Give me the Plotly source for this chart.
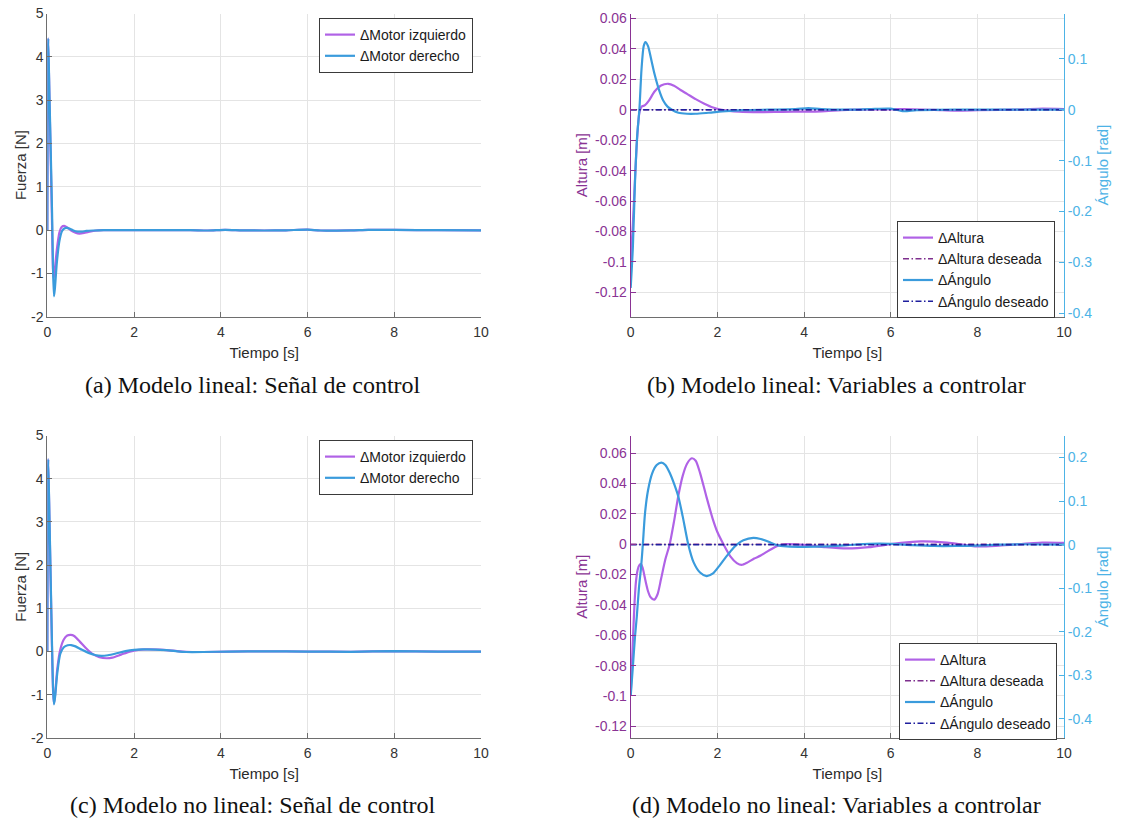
import plotly.graph_objects as go

# ---------------- data ----------------
X_TICKS = [0, 2, 4, 6, 8, 10]
X_TICK_LABELS = ["0", "2", "4", "6", "8", "10"]
F_TICKS = [-2, -1, 0, 1, 2, 3, 4, 5]
F_TICK_LABELS = ["-2", "-1", "0", "1", "2", "3", "4", "5"]
ALT_TICKS = [-0.12, -0.1, -0.08, -0.06, -0.04, -0.02, 0, 0.02, 0.04, 0.06]
ALT_TICK_LABELS = ["-0.12", "-0.1", "-0.08", "-0.06", "-0.04", "-0.02", "0", "0.02", "0.04", "0.06"]
ANG_TICKS_B = [-0.4, -0.3, -0.2, -0.1, 0, 0.1]
ANG_TICK_LABELS_B = ["-0.4", "-0.3", "-0.2", "-0.1", "0", "0.1"]
ANG_TICKS_D = [-0.4, -0.3, -0.2, -0.1, 0, 0.1, 0.2]
ANG_TICK_LABELS_D = ["-0.4", "-0.3", "-0.2", "-0.1", "0", "0.1", "0.2"]

# (a) linear model, control signal
t_a_izq = [0, 0.02, 0.05, 0.08, 0.11, 0.13, 0.145, 0.17, 0.22, 0.28, 0.33, 0.39, 0.46, 0.55,
           0.65, 0.74, 0.85, 0.95, 1.1, 1.3, 1.6, 2.5, 3.3, 3.7, 4.1, 4.5, 5, 5.5, 6, 6.3,
           7, 7.4, 8, 9, 10]
f_a_izq = [0, 4.42, 3.0, 1.6, 0.1, -0.9, -1.12, -0.95, -0.45, -0.05, 0.07, 0.095, 0.06, -0.01,
           -0.06, -0.08, -0.065, -0.04, -0.015, -0.003, 0, 0, 0, -0.01, 0.005, -0.005, -0.01, -0.005, 0.01, -0.01,
           -0.005, 0.005, 0.003, -0.003, -0.005]
t_a_der = [0, 0.02, 0.05, 0.08, 0.11, 0.135, 0.155, 0.175, 0.22, 0.28, 0.34, 0.40, 0.45, 0.52,
           0.6, 0.7, 0.8, 0.9, 1.05, 1.3, 1.6, 2.5, 3.3, 3.7, 4.1, 4.5, 5, 5.5, 6, 6.3,
           7, 7.4, 8, 9, 10]
f_a_der = [0, 4.42, 3.1, 1.8, 0.4, -1.0, -1.53, -1.35, -0.75, -0.25, -0.02, 0.04, 0.05, 0.03,
           -0.01, -0.035, -0.035, -0.02, -0.01, 0, 0, 0, 0, -0.01, 0.005, -0.005, -0.01, -0.005, 0.01, -0.01,
           -0.005, 0.005, 0.003, -0.003, -0.005]

# (b) linear model, controlled variables
t_b_alt = [0, 0.05, 0.1, 0.15, 0.2, 0.25, 0.33, 0.42, 0.55, 0.7, 0.87, 1.0, 1.15, 1.3, 1.5,
           1.7, 1.9, 2.1, 2.5, 3.0, 3.5, 4.0, 4.4, 5, 6, 6.3, 7, 7.5, 8, 9, 9.5, 10]
h_b_alt = [-0.1, -0.075, -0.045, -0.018, -0.002, 0.002, 0.003, 0.006, 0.012, 0.016, 0.0171, 0.0158,
           0.013, 0.0105, 0.007, 0.004, 0.0015, 0.0, -0.0012, -0.0015, -0.0013, -0.0012, -0.001, 0,
           0.0003, 0.0005, 0, -0.0005, -0.0003, 0.0002, 0.0008, 0.0005]
t_b_ang = [0, 0.05, 0.1, 0.15, 0.2, 0.25, 0.3, 0.34, 0.4, 0.47, 0.55, 0.65, 0.75, 0.85, 0.95,
           1.1, 1.3, 1.5, 1.8, 2.2, 2.6, 3.2, 3.8, 4.1, 4.4, 5, 5.5, 6, 6.3, 6.6, 7.5, 8.5, 10]
a_b_ang = [-0.35, -0.27, -0.14, -0.05, 0.0, 0.08, 0.125, 0.133, 0.125, 0.1, 0.07, 0.04, 0.018,
           0.006, 0.0, -0.006, -0.008, -0.008, -0.006, -0.003, -0.001, 0.0, 0.001, 0.003, 0.001,
           0.0, 0.001, 0.002, -0.003, -0.001, 0.0, 0.0, 0.0]

# (c) nonlinear model, control signal
t_c_izq = [0, 0.02, 0.05, 0.08, 0.11, 0.135, 0.155, 0.18, 0.23, 0.3, 0.38, 0.46, 0.54, 0.62,
           0.75, 0.9, 1.05, 1.2, 1.37, 1.5, 1.7, 1.9, 2.1, 2.3, 2.6, 2.8, 3.0, 3.2, 3.6, 4.2,
           5, 6, 7, 8, 9, 10]
f_c_izq = [0, 4.45, 3.0, 1.5, 0.0, -0.95, -1.2, -1.0, -0.4, 0.05, 0.28, 0.37, 0.385, 0.36,
           0.23, 0.07, -0.06, -0.13, -0.155, -0.14, -0.07, 0.0, 0.04, 0.05, 0.045, 0.03, 0.01, -0.005,
           -0.01, 0, 0.005, 0, -0.005, 0.01, 0, 0]
t_c_der = [0, 0.02, 0.05, 0.08, 0.11, 0.135, 0.155, 0.18, 0.23, 0.3, 0.38, 0.47, 0.55, 0.65,
           0.8, 0.95, 1.1, 1.25, 1.4, 1.6, 1.8, 2.0, 2.2, 2.5, 2.8, 3.0, 3.2, 3.6, 4.2,
           5, 6, 7, 8, 9, 10]
f_c_der = [0, 4.45, 3.1, 1.6, 0.1, -0.9, -1.22, -1.05, -0.5, -0.05, 0.1, 0.145, 0.15, 0.12,
           0.04, -0.03, -0.08, -0.1, -0.085, -0.04, 0.01, 0.04, 0.05, 0.045, 0.03, 0.005, -0.01,
           -0.01, 0, 0.005, 0, -0.005, 0.01, 0, 0]

# (d) nonlinear model, controlled variables
t_d_alt = [0, 0.03, 0.06, 0.09, 0.12, 0.16, 0.2, 0.24, 0.28, 0.34, 0.4, 0.46, 0.545, 0.62, 0.7,
           0.8, 0.9, 1.0, 1.1, 1.2, 1.3, 1.41, 1.5, 1.6, 1.75, 1.9, 2.0, 2.14, 2.3, 2.45, 2.56,
           2.7, 2.85, 3.0, 3.2, 3.4, 3.6, 4.0, 4.5, 5.0, 5.5, 6.0, 6.7, 7.3, 8.0, 8.5, 9.5, 10]
h_d_alt = [-0.1, -0.078, -0.057, -0.038, -0.025, -0.017, -0.0138, -0.0132, -0.016, -0.024, -0.031,
           -0.035, -0.0365, -0.033, -0.023, -0.01, 0.0, 0.015, 0.032, 0.045, 0.053, 0.0566, 0.055,
           0.047, 0.031, 0.016, 0.008, 0.0, -0.008, -0.0125, -0.0137, -0.012, -0.0095, -0.0075,
           -0.004, -0.001, 0.0, -0.0005, -0.002, -0.0028, -0.002, 0.0, 0.0018, 0.001, -0.0015,
           -0.001, 0.001, 0.0008]
t_d_ang = [0, 0.05, 0.1, 0.14, 0.19, 0.24, 0.28, 0.33, 0.4, 0.5, 0.6, 0.71, 0.8, 0.9, 1.0, 1.1,
           1.2, 1.33, 1.45, 1.6, 1.75, 1.9, 2.05, 2.2, 2.33, 2.45, 2.6, 2.83, 3.0, 3.2, 3.37, 3.6,
           4.0, 4.5, 5.0, 5.5, 6.0, 6.5, 7.0, 7.5, 8.0, 8.5, 9.0, 10]
a_d_ang = [-0.347, -0.28, -0.21, -0.166, -0.1, -0.051, 0.0, 0.072, 0.125, 0.165, 0.183, 0.1885,
           0.183, 0.165, 0.14, 0.11, 0.065, 0.0, -0.04, -0.064, -0.072, -0.066, -0.048, -0.028,
           -0.012, 0.0, 0.01, 0.0157, 0.013, 0.006, -0.001, -0.004, -0.005, -0.004, -0.001, 0.002,
           0.002, -0.001, -0.003, -0.003, -0.002, 0.0, 0.001, 0.0]

t_ref = [0, 10]
ref_zero = [0, 0]

# ---------------- style ----------------
PURPLE = "#B062E6"
BLUE = "#3A9BDC"
PURPLE_AX = "#8A3394"
BLUE_AX = "#4DB3E6"
DES_ALT = "#7E2F8E"
DES_ANG = "#1F1F9E"
GRAY_AX = "#6E6E6E"
GRID = "#E4E4E4"
SANS = "Liberation Sans, Arial, sans-serif"
TICK_FONT = dict(family=SANS, size=14, color="#333333")
TITLE_FONT = dict(family=SANS, size=15, color="#2A2A2A")
DASHDOT = "6px,2.5px,1.5px,2.5px"

W, H = 1122, 825


def px_x(p):
    return p / W


def px_y(p):
    return 1 - p / H


fig = go.Figure()

LW = 2.2


def line(x, y, name, color, xa, ya, legend, dash="solid", width=LW, spline=True):
    fig.add_trace(go.Scatter(
        x=x, y=y, name=name, mode="lines", xaxis=xa, yaxis=ya, legend=legend,
        line=dict(color=color, width=width, dash=dash,
                  shape="spline" if spline else "linear", smoothing=0.7),
    ))


# (a)
line(t_a_izq, f_a_izq, "ΔMotor izquierdo", PURPLE, "x", "y", "legend")
line(t_a_der, f_a_der, "ΔMotor derecho", BLUE, "x", "y", "legend")
# (b)
line(t_b_alt, h_b_alt, "ΔAltura", PURPLE, "x2", "y2", "legend2")
line(t_ref, ref_zero, "ΔAltura deseada", DES_ALT, "x2", "y2", "legend2", dash=DASHDOT, width=1.5, spline=False)
line(t_b_ang, a_b_ang, "ΔÁngulo", BLUE, "x2", "y3", "legend2")
line(t_ref, ref_zero, "ΔÁngulo deseado", DES_ANG, "x2", "y3", "legend2", dash=DASHDOT, width=1.5, spline=False)
# (c)
line(t_c_izq, f_c_izq, "ΔMotor izquierdo", PURPLE, "x3", "y4", "legend3")
line(t_c_der, f_c_der, "ΔMotor derecho", BLUE, "x3", "y4", "legend3")
# (d)
line(t_d_alt, h_d_alt, "ΔAltura", PURPLE, "x4", "y5", "legend4")
line(t_ref, ref_zero, "ΔAltura deseada", DES_ALT, "x4", "y5", "legend4", dash=DASHDOT, width=1.5, spline=False)
line(t_d_ang, a_d_ang, "ΔÁngulo", BLUE, "x4", "y6", "legend4")
line(t_ref, ref_zero, "ΔÁngulo deseado", DES_ANG, "x4", "y6", "legend4", dash=DASHDOT, width=1.5, spline=False)

LEFT_DOM = [px_x(47.3), px_x(481)]
RIGHT_DOM = [px_x(630.7), px_x(1064)]
TOP_DOM = [px_y(316.7), px_y(13.5)]
BOT_DOM = [px_y(738), px_y(435.5)]


def xax(domain, anchor):
    return dict(domain=domain, anchor=anchor, range=[0, 10], tickmode="array",
                tickvals=X_TICKS, ticktext=X_TICK_LABELS, showline=True, linecolor=GRAY_AX,
                linewidth=1, ticks="inside", ticklen=5, tickcolor=GRAY_AX, showgrid=True,
                gridcolor=GRID, zeroline=False, tickfont=TICK_FONT, automargin=False,
                ticklabelstandoff=2,
                title=dict(text="Tiempo [s]", font=TITLE_FONT, standoff=8))


def yax(domain, anchor, rng, vals, labels, title, color, font_color, side="left",
        overlaying=None, grid=True, standoff=6):
    d = dict(anchor=anchor, range=rng, tickmode="array", tickvals=vals, ticktext=labels,
             showline=True, linecolor=color, linewidth=1, ticks="inside", ticklen=5,
             tickcolor=color, showgrid=grid, gridcolor=GRID, zeroline=False,
             tickfont=dict(family=SANS, size=14, color=font_color), automargin=False,
             side=side,
             title=dict(text=title, font=dict(family=SANS, size=15, color=font_color),
                        standoff=standoff))
    if overlaying:
        d["overlaying"] = overlaying
    else:
        d["domain"] = domain
    return d


fig.update_layout(
    width=W, height=H, margin=dict(l=0, r=0, t=0, b=0),
    paper_bgcolor="white", plot_bgcolor="white", showlegend=True,
    xaxis=xax(LEFT_DOM, "y"),
    yaxis=yax(TOP_DOM, "x", [-2, 5], F_TICKS, F_TICK_LABELS, "Fuerza [N]", GRAY_AX, "#333333",
              standoff=0),
    xaxis2=xax(RIGHT_DOM, "y2"),
    yaxis2=yax(TOP_DOM, "x2", [-0.136, 0.0633], ALT_TICKS, ALT_TICK_LABELS, "Altura [m]",
               PURPLE_AX, PURPLE_AX, standoff=3),
    yaxis3=yax(None, "x2", [-0.4067, 0.189], ANG_TICKS_B, ANG_TICK_LABELS_B, "Ángulo [rad]",
               BLUE_AX, BLUE_AX, side="right", overlaying="y2", grid=False),
    xaxis3=xax(LEFT_DOM, "y4"),
    yaxis4=yax(BOT_DOM, "x3", [-2, 5], F_TICKS, F_TICK_LABELS, "Fuerza [N]", GRAY_AX, "#333333",
               standoff=0),
    xaxis4=xax(RIGHT_DOM, "y5"),
    yaxis5=yax(BOT_DOM, "x4", [-0.1277, 0.0716], ALT_TICKS, ALT_TICK_LABELS, "Altura [m]",
               PURPLE_AX, PURPLE_AX, standoff=3),
    yaxis6=yax(None, "x4", [-0.4438, 0.2507], ANG_TICKS_D, ANG_TICK_LABELS_D, "Ángulo [rad]",
               BLUE_AX, BLUE_AX, side="right", overlaying="y5", grid=False),
)

LEG_FONT = dict(family=SANS, size=14, color="#1A1A1A")


def leg(xr, yt):
    return dict(x=px_x(xr), y=px_y(yt), xanchor="right", yanchor="top", xref="paper",
                yref="paper", bgcolor="white", bordercolor="#3A3A3A", borderwidth=1,
                font=LEG_FONT, tracegroupgap=0, itemwidth=30)


fig.update_layout(legend=leg(473, 18), legend2=leg(1055, 221),
                  legend3=leg(473, 440), legend4=leg(1057, 643))

CAP_FONT = dict(family="Liberation Serif, Times New Roman, serif", size=24, color="#111111")
captions = [
    ("(a) Modelo lineal: Señal de control", 253, 385),
    ("(b) Modelo lineal: Variables a controlar", 836, 385),
    ("(c) Modelo no lineal: Señal de control", 253, 805),
    ("(d) Modelo no lineal: Variables a controlar", 836, 805),
]
for text, cx, cy in captions:
    fig.add_annotation(text=text, x=px_x(cx), y=px_y(cy), xref="paper", yref="paper",
                       showarrow=False, font=CAP_FONT, xanchor="center", yanchor="middle")

fig.write_html(
    "out.html",
    config={"displayModeBar": False},
    post_script="document.body.style.margin='0px';document.body.style.overflow='hidden';",
)
